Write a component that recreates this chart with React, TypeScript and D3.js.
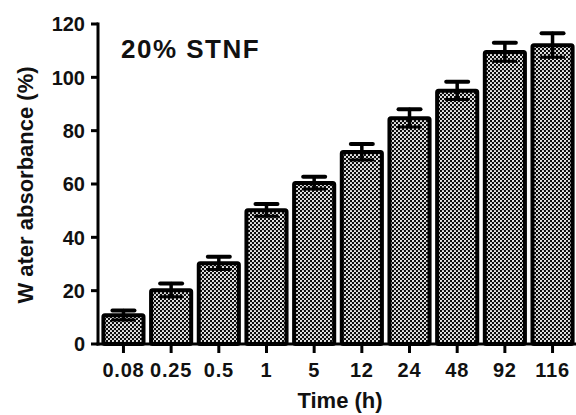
import * as d3 from 'd3'

// values
const times = ['0.08', '0.25', '0.5', '1', '5', '12', '24', '48', '92', '116']
const absorbance = [10.8, 20.2, 30.3, 50.2, 60.4, 72, 84.7, 95, 109.5, 112]
const errors = [1.8, 2.5, 2.4, 2.3, 2.3, 3, 3.3, 3.3, 3.5, 4.5]
const yTicks = [0, 20, 40, 60, 80, 100, 120]

const W = 576
const H = 415
const margin = { top: 24, right: 0, bottom: 71, left: 98 }
const font = 'Liberation Sans, Arial, sans-serif'

export default function App() {
  const x = d3.scaleBand<string>()
    .domain(times)
    .range([margin.left + 1.5, W + 0.5])
    .paddingInner(0.075)
    .paddingOuter(0.04)

  const y = d3.scaleLinear().domain([0, 120]).range([H - margin.bottom, margin.top])
  const y0 = y(0)

  return (
    <svg width={W} height={H} style={{ position: 'absolute', left: 0, top: 0, background: '#fff' }}>
      <defs>
        <pattern id="dots" width="4" height="4" patternUnits="userSpaceOnUse">
          <rect width="4" height="4" fill="#0a0a0a" />
          <circle cx="1" cy="1" r="1.1" fill="#f6f6f6" />
          <circle cx="3" cy="3" r="1.1" fill="#f6f6f6" />
        </pattern>
      </defs>

      {/* bars */}
      {times.map((t, i) => {
        const bx = x(t)!
        const bw = x.bandwidth()
        const top = y(absorbance[i])
        return (
          <rect key={t} x={bx + 2} y={top} width={bw - 4} height={y0 - top}
            fill="url(#dots)" stroke="#000" strokeWidth={4} rx={1.5} />
        )
      })}

      {/* error bars */}
      {times.map((t, i) => {
        const cx = x(t)! + x.bandwidth() / 2
        const hi = y(absorbance[i] + errors[i])
        const lo = y(absorbance[i] - errors[i])
        return (
          <g key={t} stroke="#000" strokeLinecap="round">
            <line x1={cx} x2={cx} y1={hi} y2={lo} strokeWidth={3.5} />
            <line x1={cx - 11} x2={cx + 11} y1={hi} y2={hi} strokeWidth={4} />
            <line x1={cx - 11} x2={cx + 11} y1={lo} y2={lo} strokeWidth={3} />
          </g>
        )
      })}

      {/* y axis */}
      <line x1={margin.left} x2={margin.left} y1={y(120) - 1.5} y2={y0 + 1.5} stroke="#000" strokeWidth={3} />
      {yTicks.map(v => (
        <g key={v}>
          <line x1={margin.left - 7} x2={margin.left} y1={y(v)} y2={y(v)} stroke="#000" strokeWidth={3} />
          <text x={margin.left - 13} y={y(v)} dy="0.36em" textAnchor="end"
            fontFamily={font} fontWeight="bold" fontSize={20} fill="#111">{v}</text>
        </g>
      ))}

      {/* x axis */}
      <line x1={margin.left - 1.5} x2={W} y1={y0} y2={y0} stroke="#000" strokeWidth={3} />
      {times.map(t => {
        const cx = x(t)! + x.bandwidth() / 2
        return (
          <g key={t}>
            <line x1={cx} x2={cx} y1={y0} y2={y0 + 9} stroke="#000" strokeWidth={3} />
            <text x={cx} y={y0 + 33} textAnchor="middle" letterSpacing={0.8}
              fontFamily={font} fontWeight="bold" fontSize={20} fill="#111">{t}</text>
          </g>
        )
      })}

      {/* labels */}
      <text transform={`translate(33,${(y(120) + y0) / 2 + 1}) rotate(-90)`} textAnchor="middle"
        fontFamily={font} fontWeight="bold" fontSize={22} fill="#111">W ater absorbance (%)</text>
      <text x={340} y={408} textAnchor="middle"
        fontFamily={font} fontWeight="bold" fontSize={22} fill="#111">Time (h)</text>
      <text x={121} y={58} fontFamily={font} fontWeight="bold" fontSize={26} letterSpacing={1.5} fill="#111">20% STNF</text>
    </svg>
  )
}
